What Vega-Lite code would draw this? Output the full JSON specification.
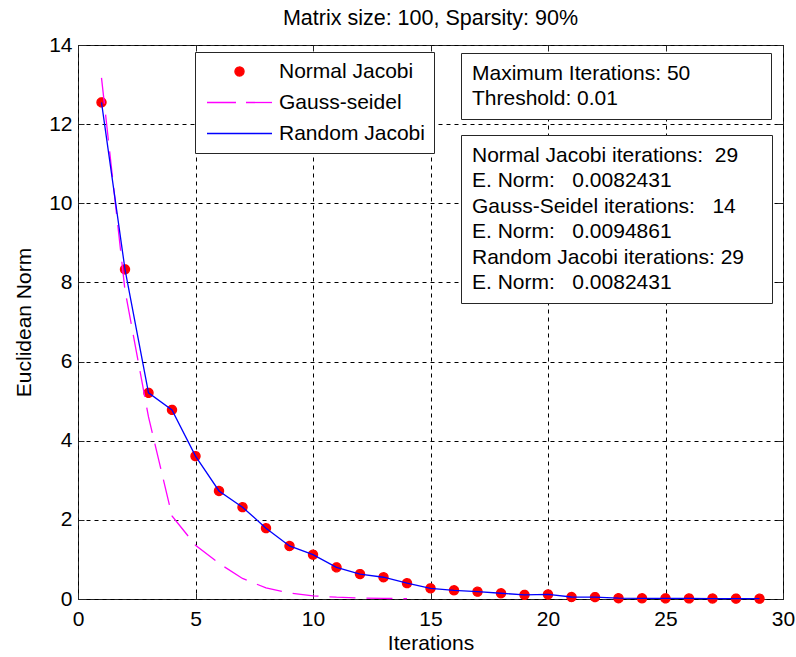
{
  "$schema": "https://vega.github.io/schema/vega-lite/v6.json",
  "width": 705,
  "height": 554,
  "autosize": {"type": "none"},
  "padding": {"left": 78, "top": 45, "right": 13, "bottom": 58},
  "background": "white",
  "title": {
    "text": "Matrix size: 100, Sparsity: 90%",
    "font": "Liberation Sans",
    "fontSize": 21.5,
    "fontWeight": "normal",
    "color": "black",
    "baseline": "alphabetic",
    "anchor": "middle",
    "frame": "group",
    "offset": -12
  },
  "config": {
    "font": "Liberation Sans",
    "view": {"stroke": "#262626", "strokeWidth": 1},
    "axis": {
      "labelFont": "Liberation Sans",
      "labelFontSize": 21,
      "labelColor": "black",
      "titleFont": "Liberation Sans",
      "titleFontSize": 21,
      "titleFontWeight": "normal",
      "titleColor": "black",
      "tickColor": "#262626",
      "tickSize": -6,
      "domain": false,
      "labelFlush": false,
      "labelOverlap": false,
      "gridColor": "black",
      "gridDash": [4, 4],
      "gridWidth": 1,
      "gridOpacity": 1
    },
    "legend": {
      "labelFont": "Liberation Sans",
      "labelFontSize": 21,
      "labelColor": "black",
      "labelLimit": 600
    }
  },
  "datasets": {
    "iters": [
      {"iter": 1, "norm": 12.55, "method": "Normal Jacobi"},
      {"iter": 2, "norm": 8.33, "method": "Normal Jacobi"},
      {"iter": 3, "norm": 5.21, "method": "Normal Jacobi"},
      {"iter": 4, "norm": 4.78, "method": "Normal Jacobi"},
      {"iter": 5, "norm": 3.61, "method": "Normal Jacobi"},
      {"iter": 6, "norm": 2.73, "method": "Normal Jacobi"},
      {"iter": 7, "norm": 2.32, "method": "Normal Jacobi"},
      {"iter": 8, "norm": 1.79, "method": "Normal Jacobi"},
      {"iter": 9, "norm": 1.34, "method": "Normal Jacobi"},
      {"iter": 10, "norm": 1.12, "method": "Normal Jacobi"},
      {"iter": 11, "norm": 0.8, "method": "Normal Jacobi"},
      {"iter": 12, "norm": 0.63, "method": "Normal Jacobi"},
      {"iter": 13, "norm": 0.55, "method": "Normal Jacobi"},
      {"iter": 14, "norm": 0.4, "method": "Normal Jacobi"},
      {"iter": 15, "norm": 0.27, "method": "Normal Jacobi"},
      {"iter": 16, "norm": 0.22, "method": "Normal Jacobi"},
      {"iter": 17, "norm": 0.185, "method": "Normal Jacobi"},
      {"iter": 18, "norm": 0.145, "method": "Normal Jacobi"},
      {"iter": 19, "norm": 0.105, "method": "Normal Jacobi"},
      {"iter": 20, "norm": 0.115, "method": "Normal Jacobi"},
      {"iter": 21, "norm": 0.05, "method": "Normal Jacobi"},
      {"iter": 22, "norm": 0.048, "method": "Normal Jacobi"},
      {"iter": 23, "norm": 0.02, "method": "Normal Jacobi"},
      {"iter": 24, "norm": 0.018, "method": "Normal Jacobi"},
      {"iter": 25, "norm": 0.016, "method": "Normal Jacobi"},
      {"iter": 26, "norm": 0.014, "method": "Normal Jacobi"},
      {"iter": 27, "norm": 0.012, "method": "Normal Jacobi"},
      {"iter": 28, "norm": 0.01, "method": "Normal Jacobi"},
      {"iter": 29, "norm": 0.0082431, "method": "Normal Jacobi"},
      {"iter": 1, "norm": 13.17, "method": "Gauss-seidel"},
      {"iter": 2, "norm": 7.8, "method": "Gauss-seidel"},
      {"iter": 3, "norm": 4.6, "method": "Gauss-seidel"},
      {"iter": 4, "norm": 2.1, "method": "Gauss-seidel"},
      {"iter": 5, "norm": 1.36, "method": "Gauss-seidel"},
      {"iter": 6, "norm": 0.9, "method": "Gauss-seidel"},
      {"iter": 7, "norm": 0.52, "method": "Gauss-seidel"},
      {"iter": 8, "norm": 0.28, "method": "Gauss-seidel"},
      {"iter": 9, "norm": 0.15, "method": "Gauss-seidel"},
      {"iter": 10, "norm": 0.08, "method": "Gauss-seidel"},
      {"iter": 11, "norm": 0.045, "method": "Gauss-seidel"},
      {"iter": 12, "norm": 0.025, "method": "Gauss-seidel"},
      {"iter": 13, "norm": 0.015, "method": "Gauss-seidel"},
      {"iter": 14, "norm": 0.0094861, "method": "Gauss-seidel"},
      {"iter": 1, "norm": 12.55, "method": "Random Jacobi"},
      {"iter": 2, "norm": 8.33, "method": "Random Jacobi"},
      {"iter": 3, "norm": 5.21, "method": "Random Jacobi"},
      {"iter": 4, "norm": 4.78, "method": "Random Jacobi"},
      {"iter": 5, "norm": 3.61, "method": "Random Jacobi"},
      {"iter": 6, "norm": 2.73, "method": "Random Jacobi"},
      {"iter": 7, "norm": 2.32, "method": "Random Jacobi"},
      {"iter": 8, "norm": 1.79, "method": "Random Jacobi"},
      {"iter": 9, "norm": 1.34, "method": "Random Jacobi"},
      {"iter": 10, "norm": 1.12, "method": "Random Jacobi"},
      {"iter": 11, "norm": 0.8, "method": "Random Jacobi"},
      {"iter": 12, "norm": 0.63, "method": "Random Jacobi"},
      {"iter": 13, "norm": 0.55, "method": "Random Jacobi"},
      {"iter": 14, "norm": 0.4, "method": "Random Jacobi"},
      {"iter": 15, "norm": 0.27, "method": "Random Jacobi"},
      {"iter": 16, "norm": 0.22, "method": "Random Jacobi"},
      {"iter": 17, "norm": 0.185, "method": "Random Jacobi"},
      {"iter": 18, "norm": 0.145, "method": "Random Jacobi"},
      {"iter": 19, "norm": 0.105, "method": "Random Jacobi"},
      {"iter": 20, "norm": 0.115, "method": "Random Jacobi"},
      {"iter": 21, "norm": 0.05, "method": "Random Jacobi"},
      {"iter": 22, "norm": 0.048, "method": "Random Jacobi"},
      {"iter": 23, "norm": 0.02, "method": "Random Jacobi"},
      {"iter": 24, "norm": 0.018, "method": "Random Jacobi"},
      {"iter": 25, "norm": 0.016, "method": "Random Jacobi"},
      {"iter": 26, "norm": 0.014, "method": "Random Jacobi"},
      {"iter": 27, "norm": 0.012, "method": "Random Jacobi"},
      {"iter": 28, "norm": 0.01, "method": "Random Jacobi"},
      {"iter": 29, "norm": 0.0082431, "method": "Random Jacobi"}
    ],
    "notes": [
      {"box": "limits", "line": "1|Maximum Iterations: 50"},
      {"box": "limits", "line": "2|Threshold: 0.01"},
      {"box": "results", "line": "1|Normal Jacobi iterations:\u00a0\u00a029"},
      {"box": "results", "line": "2|E. Norm:\u00a0\u00a0\u00a00.0082431"},
      {"box": "results", "line": "3|Gauss-Seidel iterations:\u00a0\u00a0\u00a014"},
      {"box": "results", "line": "4|E. Norm:\u00a0\u00a0\u00a00.0094861"},
      {"box": "results", "line": "5|Random Jacobi iterations: 29"},
      {"box": "results", "line": "6|E. Norm:\u00a0\u00a0\u00a00.0082431"}
    ]
  },
  "layer": [
    {
      "data": {"name": "iters"},
      "transform": [{"filter": "datum.method === 'Normal Jacobi'"}],
      "mark": {"type": "point", "filled": true, "opacity": 1, "strokeWidth": 1.3},
      "encoding": {
        "x": {
          "field": "iter", "type": "quantitative",
          "scale": {"domain": [0, 30], "nice": false, "zero": false},
          "axis": {
            "orient": "bottom", "title": "Iterations",
            "values": [0, 5, 10, 15, 20, 25, 30],
            "labelPadding": 15, "titlePadding": 3, "grid": true
          }
        },
        "y": {
          "field": "norm", "type": "quantitative",
          "scale": {"domain": [0, 14], "nice": false},
          "axis": {
            "orient": "left", "title": "Euclidean Norm",
            "values": [0, 2, 4, 6, 8, 10, 12, 14],
            "labelPadding": 12, "titlePadding": 14, "grid": true
          }
        },
        "color": {
          "field": "method", "type": "nominal",
          "scale": {
            "domain": ["Normal Jacobi", "Gauss-seidel", "Random Jacobi"],
            "range": ["#ff0000", "#ff00ff", "#0000ff"]
          },
          "legend": {
            "title": null,
            "orient": "none",
            "legendX": 117,
            "legendY": 7,
            "direction": "vertical",
            "strokeColor": "#262626",
            "fillColor": "white",
            "padding": 9,
            "rowPadding": 9,
            "clipHeight": 21,
            "symbolStrokeWidth": 1.3,
            "symbolOffset": 2,
            "labelOffset": 6
          }
        },
        "stroke": {
          "field": "method", "type": "nominal",
          "scale": {
            "domain": ["Normal Jacobi", "Gauss-seidel", "Random Jacobi"],
            "range": ["#ff0000", "#ff00ff", "#0000ff"]
          }
        },
        "shape": {
          "field": "method", "type": "nominal",
          "scale": {
            "domain": ["Normal Jacobi", "Gauss-seidel", "Random Jacobi"],
            "range": ["circle", "stroke", "stroke"]
          }
        },
        "size": {
          "field": "method", "type": "nominal",
          "scale": {
            "type": "ordinal",
            "domain": ["Normal Jacobi", "Gauss-seidel", "Random Jacobi"],
            "range": [82, 4225, 4225]
          }
        },
        "strokeDash": {
          "field": "method", "type": "nominal",
          "scale": {
            "domain": ["Normal Jacobi", "Gauss-seidel", "Random Jacobi"],
            "range": [[1, 0], [29, 10], [1, 0]]
          }
        }
      }
    },
    {
      "data": {"name": "iters"},
      "transform": [{"filter": "datum.method === 'Gauss-seidel'"}],
      "mark": {"type": "line", "strokeWidth": 1.3, "strokeDash": [26, 11]},
      "encoding": {
        "x": {
          "field": "iter", "type": "quantitative",
          "axis": {"orient": "top", "labels": false, "title": null, "grid": false,
                   "values": [0, 5, 10, 15, 20, 25, 30]}
        },
        "y": {
          "field": "norm", "type": "quantitative",
          "axis": {"orient": "right", "labels": false, "title": null, "grid": false,
                   "values": [0, 2, 4, 6, 8, 10, 12, 14]}
        },
        "color": {"field": "method", "type": "nominal", "legend": null}
      }
    },
    {
      "data": {"name": "iters"},
      "transform": [{"filter": "datum.method === 'Random Jacobi'"}],
      "mark": {"type": "line", "strokeWidth": 1.3},
      "encoding": {
        "x": {"field": "iter", "type": "quantitative", "axis": null},
        "y": {"field": "norm", "type": "quantitative", "axis": null},
        "color": {"field": "method", "type": "nominal", "legend": null}
      }
    },
    {
      "data": {"name": "notes"},
      "transform": [{"filter": "datum.box === 'limits'"}],
      "mark": {"type": "point", "size": 0, "opacity": 0},
      "encoding": {
        "opacity": {
          "field": "line", "type": "nominal",
          "legend": {
            "title": null,
            "orient": "none",
            "legendX": 383,
            "legendY": 8,
            "strokeColor": "#262626",
            "fillColor": "white",
            "padding": 10,
            "rowPadding": 3.5,
            "symbolSize": 0,
            "symbolStrokeWidth": 0,
            "symbolOpacity": 0,
            "labelOffset": -20,
            "labelExpr": "pad(split(datum.label, '|')[1], 34, '\u00a0', 'right') + '\u200b'"
          }
        }
      }
    },
    {
      "data": {"name": "notes"},
      "transform": [{"filter": "datum.box === 'results'"}],
      "mark": {"type": "point", "size": 0, "opacity": 0},
      "encoding": {
        "strokeWidth": {
          "field": "line", "type": "nominal",
          "legend": {
            "title": null,
            "orient": "none",
            "legendX": 383,
            "legendY": 90,
            "strokeColor": "#262626",
            "fillColor": "white",
            "padding": 10,
            "rowPadding": 3.5,
            "symbolSize": 0,
            "symbolStrokeWidth": 0,
            "symbolOpacity": 0,
            "labelOffset": -20,
            "labelExpr": "pad(split(datum.label, '|')[1], 31, '\u00a0', 'right') + '\u200b'"
          }
        }
      }
    }
  ],
  "resolve": {
    "axis": {"x": "independent", "y": "independent"}
  }
}
